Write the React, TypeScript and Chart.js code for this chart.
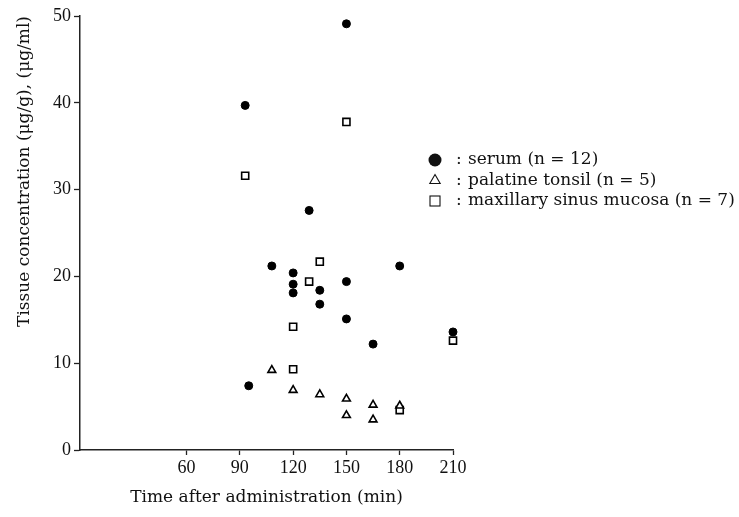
import { useEffect, useRef } from "react";
import { Chart, registerables } from "chart.js";

Chart.register(...registerables);

// Time after administration (min) and concentrations
const serumX = [93, 95, 108, 120, 120, 120, 129, 135, 135, 150, 150, 150, 165, 180, 210];
const serumY = [39.7, 7.4, 21.2, 20.4, 19.1, 18.1, 27.6, 18.4, 16.8, 49.1, 19.4, 15.1, 12.2, 21.2, 13.6];

const tonsilX = [108, 120, 135, 150, 150, 165, 165, 180];
const tonsilY = [9.2, 6.9, 6.4, 5.9, 4.0, 5.2, 3.5, 5.1];

const mucosaX = [93, 120, 120, 129, 135, 150, 180, 210];
const mucosaY = [31.6, 14.2, 9.3, 19.4, 21.7, 37.8, 4.6, 12.6];

const xTicks = [60, 90, 120, 150, 180, 210];
const yTicks = [0, 10, 20, 30, 40, 50];

const legendLabels = ["serum (n = 12)", "palatine tonsil (n = 5)", "maxillary sinus mucosa (n = 7)"];
const xTitle = "Time after administration (min)";
const yTitle = "Tissue concentration (μg/g), (μg/ml)";

function toPoints(xs: number[], ys: number[]) {
  return xs.map((x, i) => ({ x, y: ys[i] }));
}

const INK = "#111";
const TICK_FONT = { family: "'Liberation Serif', serif", size: 18 };
const TEXT_FONT = "'DejaVu Serif', serif";

export default function App() {
  const ref = useRef<HTMLCanvasElement | null>(null);

  useEffect(() => {
    if (!ref.current) return;

    const legendPlugin = {
      id: "customLegend",
      afterDraw(chart: any) {
        const ctx = chart.ctx as CanvasRenderingContext2D;
        ctx.save();
        const mx = 435;
        const tx = 456;
        const rows = [160, 180.5, 201];
        ctx.strokeStyle = INK;
        ctx.fillStyle = INK;
        ctx.lineWidth = 1.1;
        // circle
        ctx.beginPath();
        ctx.arc(mx, rows[0], 6.5, 0, Math.PI * 2);
        ctx.fill();
        // triangle
        const r = 6;
        ctx.beginPath();
        ctx.moveTo(mx, rows[1] - r);
        ctx.lineTo(mx + r * 0.866, rows[1] + r * 0.5);
        ctx.lineTo(mx - r * 0.866, rows[1] + r * 0.5);
        ctx.closePath();
        ctx.stroke();
        // square
        ctx.strokeRect(mx - 5, rows[2] - 5, 10, 10);
        ctx.font = `17px ${TEXT_FONT}`;
        ctx.textBaseline = "middle";
        ctx.textAlign = "left";
        legendLabels.forEach((label, i) => {
          ctx.fillText(":", tx, rows[i]);
          ctx.fillText(label, tx + 12, rows[i]);
        });
        ctx.restore();
      },
    };

    const chart = new Chart(ref.current, {
      type: "scatter",
      data: {
        datasets: [
          {
            label: legendLabels[0],
            data: toPoints(serumX, serumY),
            pointStyle: "circle",
            radius: 4,
            backgroundColor: "#000",
            borderColor: "#000",
            borderWidth: 1,
            clip: false,
          },
          {
            label: legendLabels[1],
            data: toPoints(tonsilX, tonsilY),
            pointStyle: "triangle",
            radius: 4.5,
            backgroundColor: "#fff",
            borderColor: "#000",
            borderWidth: 1.6,
            clip: false,
          },
          {
            label: legendLabels[2],
            data: toPoints(mucosaX, mucosaY),
            pointStyle: "rect",
            radius: 5,
            backgroundColor: "#fff",
            borderColor: "#000",
            borderWidth: 1.6,
            clip: false,
          },
        ],
      },
      options: {
        animation: false,
        responsive: false,
        layout: { padding: { top: 16, right: 286, left: 0, bottom: 0 } },
        plugins: {
          legend: { display: false },
          tooltip: { enabled: false },
        },
        scales: {
          x: {
            type: "linear",
            min: 0,
            max: 210,
            afterBuildTicks: (s: any) => {
              s.ticks = xTicks.map((v) => ({ value: v }));
            },
            afterFit: (s: any) => {
              s.height = 67;
            },
            ticks: {
              font: TICK_FONT,
              color: INK,
              padding: 2,
              maxRotation: 0,
              autoSkip: false,
            },
            grid: {
              drawOnChartArea: false,
              tickLength: 5,
              color: "#222",
              tickWidth: 1.3,
            },
            border: { color: "#222", width: 1.5 },
            title: {
              display: true,
              text: xTitle,
              font: { family: TEXT_FONT, size: 17 },
              color: INK,
              padding: { top: 0, bottom: 9 },
            },
          },
          y: {
            type: "linear",
            min: 0,
            max: 50,
            afterBuildTicks: (s: any) => {
              s.ticks = yTicks.map((v) => ({ value: v }));
            },
            afterFit: (s: any) => {
              s.width = 80;
            },
            ticks: {
              font: TICK_FONT,
              color: INK,
              padding: 3,
            },
            grid: {
              drawOnChartArea: false,
              tickLength: 6,
              color: "#222",
              tickWidth: 1.3,
            },
            border: { color: "#222", width: 1.5 },
            title: {
              display: true,
              text: yTitle,
              align: "end",
              font: { family: TEXT_FONT, size: 17 },
              color: INK,
              padding: { top: 14, bottom: 0 },
            },
          },
        },
      },
      plugins: [legendPlugin],
    } as any);

    return () => chart.destroy();
  }, []);

  return (
    <div style={{ position: "absolute", left: 0, top: 0, width: 739, height: 517, background: "#fff" }}>
      <canvas ref={ref} width={739} height={517} style={{ width: 739, height: 517, display: "block" }} />
    </div>
  );
}
